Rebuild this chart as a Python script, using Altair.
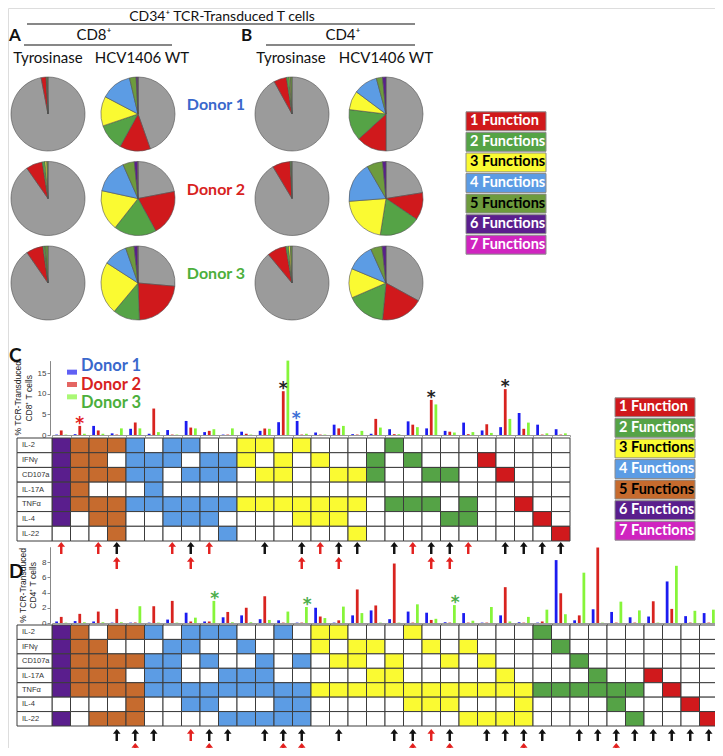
import math
import altair as alt
import pandas as pd

OFF = 8          # page margin
W, H = 707, 740  # whole drawing area


def px(v):
    """reference page pixel -> chart pixel"""
    return v - OFF


# ----------------------------------------------------------------- data
FUNC_CATS = ["1 Function", "2 Functions", "3 Functions", "4 Functions",
             "5 Functions", "6 Functions", "7 Functions"]
PIE_CATS = ["0 Functions"] + FUNC_CATS
DONORS = ["Donor 1", "Donor 2", "Donor 3"]
ANTIGENS = ["Tyrosinase", "HCV1406 WT"]
ROWS = ["IL-2", "IFNγ", "CD107a", "IL-17A", "TNFα", "IL-4", "IL-22"]

# pie slices, % of cells, in PIE_CATS order, one list per donor
cd8_tyrosinase = [[97.0, 2.2, 0.3, 0.2, 0.0, 0.3, 0.0, 0.0],
                  [90.3, 7.2, 1.2, 0.8, 0.0, 0.5, 0.0, 0.0],
                  [90.4, 7.4, 0.9, 0.3, 0.0, 1.0, 0.0, 0.0]]
cd8_hcv = [[44.6, 13.4, 11.8, 12.9, 13.6, 2.9, 0.7, 0.1],
           [22.0, 20.0, 18.6, 17.8, 15.0, 5.0, 1.4, 0.2],
           [26.4, 23.0, 11.7, 23.0, 10.5, 3.7, 1.5, 0.2]]
cd4_tyrosinase = [[92.0, 5.6, 1.2, 0.5, 0.0, 0.7, 0.0, 0.0],
                  [91.4, 7.8, 0.5, 0.0, 0.0, 0.3, 0.0, 0.0],
                  [89.0, 8.3, 1.2, 0.8, 0.0, 0.7, 0.0, 0.0]]
cd4_hcv = [[50.0, 13.2, 13.7, 8.3, 10.6, 2.7, 1.5, 0.0],
           [22.5, 12.0, 18.0, 21.3, 17.8, 6.9, 1.5, 0.0],
           [33.0, 18.5, 17.0, 12.8, 12.0, 5.0, 1.7, 0.0]]

# panel C: function patterns (rows in ROWS order) for each of 28 columns
c_patterns = ["1111110", "1111100", "1110110", "1010111", "1110100", "0111100",
              "1100110", "1010110", "0110110", "0110101", "1100100", "1010100",
              "0110100", "1000110", "0100110", "0010110", "0010101", "0110000",
              "1000100", "0100100", "0010100", "0010010", "0000110", "0100000",
              "0010000", "0000100", "0000010", "0000001"]
c_donor1 = [0.1, 0.2, 2.2, 0.4, 1.5, 0.3, 1.2, 3.4, 0.7, 0.1, 0.8, 1.0, 3.1, 3.4,
            0.6, 2.5, 0.2, 0.3, 1.4, 3.3, 1.6, 1.0, 3.0, 1.1, 1.9, 5.3, 2.5, 1.4]
c_donor2 = [1.1, 2.2, 1.1, 0.1, 3.0, 6.4, 0.1, 1.8, 1.0, 0.1, 0.3, 1.6, 10.6, 0.1,
            0.1, 1.6, 0.1, 3.9, 0.2, 2.5, 8.5, 0.8, 0.2, 2.6, 11.1, 1.5, 0.1, 0.1]
c_donor3 = [0.1, 0.3, 0.3, 1.6, 1.6, 0.7, 0.1, 1.6, 1.4, 1.6, 0.1, 1.5, 18.0, 0.3,
            0.1, 2.2, 1.0, 1.8, 0.2, 1.9, 7.4, 0.6, 0.7, 0.5, 3.9, 3.0, 0.4, 0.4]
c_arrow1_primary = [4, 8, 12, 14, 16, 17, 19, 21, 22, 25, 26, 27, 28]
c_arrow1_secondary = [1, 3, 7, 9, 15, 20, 23]
c_arrow2_secondary = [4, 8, 14, 16, 21, 22]
c_star_cols = [2, 13, 14, 21, 25]
c_star_donor = ["Donor 2", "Donor 2", "Donor 1", "Donor 2", "Donor 2"]
c_star_kind = ["Donor 2", "all", "Donor 1", "all", "all"]

# panel D: 36 columns
d_patterns = ["1111101", "1111100", "0111101", "1011101", "1010111", "1011100",
              "0111100", "1100110", "1010110", "1001101", "0101101", "0011101",
              "1000111", "0010111", "1100100", "1010100", "0110100", "0101100",
              "0011100", "1000110", "0100110", "0010110", "0100101", "0010101",
              "0001101", "0000111", "1000100", "0100100", "0010100", "0001100",
              "0000110", "0000101", "0001000", "0000100", "0000010", "0000001"]
d_donor1 = [0.2, 0.25, 0.2, 0.05, 0.05, 0.05, 0.45, 1.35, 0.2, 0.75, 1.0, 0.5,
            0.35, 0.05, 2.0, 0.05, 1.0, 1.65, 0.5, 1.5, 1.35, 0.1, 1.3, 0.05,
            1.0, 0.1, 0.05, 8.25, 0.35, 1.8, 1.45, 0.75, 0.85, 5.45, 0.9, 1.3]
d_donor2 = [0.8, 1.2, 1.5, 1.85, 0.05, 2.2, 2.9, 0.2, 0.2, 1.45, 2.0, 3.5,
            0.05, 0.05, 0.85, 0.35, 4.4, 2.3, 7.8, 0.05, 0.4, 0.05, 0.05, 0.05,
            4.7, 0.05, 0.2, 3.9, 1.0, 9.9, 0.05, 0.05, 2.85, 1.85, 0.05, 0.05]
d_donor3 = [0.05, 0.1, 0.1, 0.1, 2.2, 0.05, 0.05, 0.7, 2.9, 0.1, 0.1, 0.4,
            1.5, 2.1, 0.65, 2.15, 1.3, 0.05, 0.05, 2.45, 0.55, 2.35, 0.3, 2.1,
            0.2, 0.8, 1.75, 1.15, 6.6, 0.05, 2.8, 1.65, 0.05, 7.5, 1.6, 1.75]
d_arrow1_primary = [4, 5, 6, 9, 10, 12, 13, 14, 16, 19, 20, 22, 24, 25, 26, 27,
                    29, 30, 31, 32, 33, 34, 35, 36]
d_arrow1_secondary = [8, 21]
d_arrow2_secondary = [5, 9, 13, 14, 20, 22, 26, 31]
d_star_cols = [9, 14, 22]
d_star_donor = ["Donor 3", "Donor 3", "Donor 3"]
d_star_kind = ["Donor 3", "Donor 3", "Donor 3"]

# ----------------------------------------------------------------- styles
PIE_COLORS = ["#9b9b9b", "#d0191c", "#55a346", "#fafa32", "#5c9ce4",
              "#6d9b3d", "#5a1e8d", "#d024c0"]
GRID_COLORS = ["#d0191c", "#55a346", "#fafa32", "#5c9ce4", "#c66b2e",
               "#5a1e8d", "#d024c0"]
LEG_TEXT = ["white", "white", "black", "white", "black", "white", "white"]
BAR_COLORS = ["#1c1cf0", "#d8231f", "#86f53a"]
DONOR_TEXT = ["#3a68cc", "#d8231f", "#4caf3c"]
FONT = "Lato"
ARROW = "M0,-1L0.62,-0.22L0.2,-0.22L0.2,1L-0.2,1L-0.2,-0.22L-0.62,-0.22Z"


# ----------------------------------------------------------------- helpers
def text_layer(t, x, y, size, weight="normal", align="center", color="#111"):
    return alt.Chart(pd.DataFrame({"t": [t]})).mark_text(
        align=align, baseline="middle", fontSize=size, fontWeight=weight,
        color=color, font=FONT).encode(
        x=alt.value(px(x)), y=alt.value(px(y)), text="t:N")


def hline(x0, x1, y):
    return alt.Chart(pd.DataFrame({"a": [0]})).mark_rule(
        color="#111", strokeWidth=1.2).encode(
        x=alt.value(px(x0)), x2=alt.value(px(x1)), y=alt.value(px(y)))


def pie_frame(tyr, hcv):
    rows = []
    for antigen, block in zip(ANTIGENS, [tyr, hcv]):
        for donor, vals in zip(DONORS, block):
            for k, (cat, v) in enumerate(zip(PIE_CATS, vals)):
                rows.append(dict(antigen=antigen, donor=donor, cat=cat,
                                 order=k, value=v))
    return pd.DataFrame(rows)


PIE_Y = alt.Scale(domain=DONORS, range=[px(114), px(283)], padding=0)


def pie_layers(df, xr, label_x):
    xs = alt.Scale(domain=ANTIGENS, range=[px(xr[0]), px(xr[1])], padding=0)
    pies = alt.Chart(df).transform_filter("datum.value > 0").transform_joinaggregate(
        total="sum(value)", groupby=["antigen", "donor"]
    ).transform_window(
        cum="sum(value)", groupby=["antigen", "donor"],
        sort=[alt.SortField("order")], frame=[None, 0]
    ).transform_calculate(
        t0="(datum.cum - datum.value) / datum.total",
        t1="datum.cum / datum.total"
    ).mark_arc(outerRadius=37, stroke="#505050", strokeWidth=0.6).encode(
        x=alt.X("antigen:N", scale=xs, axis=None),
        y=alt.Y("donor:N", scale=PIE_Y, axis=None),
        theta=alt.Theta("t0:Q", scale=alt.Scale(domain=[0, 1], range=[0, 2 * math.pi]),
                        stack=False),
        theta2=alt.Theta2("t1:Q"),
        color=alt.Color("cat:N", scale=alt.Scale(domain=PIE_CATS, range=PIE_COLORS),
                        legend=None),
    )
    lab = alt.Chart(pd.DataFrame({"antigen": ANTIGENS})).mark_text(
        fontSize=15, font=FONT, color="#111", baseline="middle").encode(
        x=alt.X("antigen:N", scale=alt.Scale(domain=ANTIGENS,
                                              range=[px(label_x[0]), px(label_x[1])],
                                              padding=0), axis=None),
        y=alt.value(px(58)), text="antigen:N")
    return [pies, lab]


def legend_layers(y0, y1, x0, x1, colors):
    df = pd.DataFrame({"cat": FUNC_CATS})
    ys = alt.Scale(domain=FUNC_CATS, range=[px(y0), px(y1)],
                   paddingInner=0.08, paddingOuter=0.04)
    box = alt.Chart(df).mark_rect(stroke="#8c8c8c", strokeWidth=1).encode(
        x=alt.value(px(x0)), x2=alt.value(px(x1)),
        y=alt.Y("cat:N", scale=ys, axis=None),
        color=alt.Color("cat:N", scale=alt.Scale(domain=FUNC_CATS, range=colors),
                        legend=None))
    txt = alt.Chart(df).mark_text(align="left", baseline="middle", fontSize=14.5,
                                  fontWeight="bold", font=FONT).encode(
        x=alt.value(px(x0 + 4)),
        y=alt.Y("cat:N", scale=ys, axis=None),
        text="cat:N",
        color=alt.Color("cat:N", scale=alt.Scale(domain=FUNC_CATS, range=LEG_TEXT),
                        legend=None))
    return [box, txt]


def panel_layers(patterns, d1, d2, d3, a1p, a1s, a2s, star_cols, star_donor,
                 star_kind, xr, ymax, yr, yticks, ytitle, grid_y, arrow_y, axis_x):
    cols = list(range(1, len(patterns) + 1))
    xs = alt.Scale(domain=cols, range=[px(xr[0]), px(xr[1])],
                   paddingInner=0, paddingOuter=0)
    ys = alt.Scale(domain=[0, ymax], range=[px(yr[0]), px(yr[1])], nice=False, zero=True)
    offs = alt.Scale(domain=DONORS, paddingInner=0.4, paddingOuter=0.7)

    bars = pd.DataFrame([dict(col=c, donor=dn, value=v)
                         for dn, vals in zip(DONORS, [d1, d2, d3])
                         for c, v in zip(cols, vals)])
    layer_bars = alt.Chart(bars).mark_bar().encode(
        x=alt.X("col:O", scale=xs,
                axis=alt.Axis(orient="bottom", offset=px(yr[0]) - H, labels=False,
                              title=None, ticks=True, tickSize=2, tickBand="extent",
                              domainColor="#9a9a9a", tickColor="#9a9a9a")),
        xOffset=alt.XOffset("donor:N", scale=offs),
        y=alt.Y("value:Q", scale=ys,
                axis=alt.Axis(orient="left", offset=-px(axis_x), values=yticks,
                              labelFontSize=8, labelColor="#444", tickSize=3,
                              labelPadding=1, tickColor="#888", domainColor="#888",
                              grid=False, title=ytitle, titleFontSize=8.5,
                              titleFontWeight="normal", titleColor="#222",
                              titlePadding=4, titleFont="Liberation Sans",
                              labelFont="Liberation Sans")),
        color=alt.Color("donor:N", scale=alt.Scale(domain=DONORS, range=BAR_COLORS),
                        legend=None),
    )

    lookup = {dn: vals for dn, vals in zip(DONORS, [d1, d2, d3])}
    stars = pd.DataFrame(dict(col=star_cols, donor=star_donor, kind=star_kind,
                              value=[lookup[dn][c - 1] for c, dn in zip(star_cols, star_donor)]))
    layer_stars = alt.Chart(stars).mark_text(
        text="*", fontSize=17, fontWeight="bold", baseline="alphabetic",
        font="DejaVu Sans", dy=3).encode(
        x=alt.X("col:O", scale=xs, axis=None),
        xOffset=alt.XOffset("donor:N", scale=offs),
        y=alt.Y("value:Q", scale=ys, axis=None),
        color=alt.Color("kind:N", scale=alt.Scale(
            domain=["all", "Donor 1", "Donor 2", "Donor 3"],
            range=["#222222", "#3d6fd6", "#e3211f", "#4cae4c"]), legend=None),
    )

    grid = []
    for c, pat in zip(cols, patterns):
        n = pat.count("1")
        for r, flag in zip(ROWS, pat):
            grid.append(dict(col=c, row=r, cell=FUNC_CATS[n - 1] if flag == "1" else "off"))
    grid = pd.DataFrame(grid)
    gy = alt.Scale(domain=ROWS, range=[px(grid_y[0]), px(grid_y[1])],
                   paddingInner=0, paddingOuter=0)
    layer_grid = alt.Chart(grid).mark_rect(stroke="#3c3c3c", strokeWidth=1).encode(
        x=alt.X("col:O", scale=xs, axis=None),
        y=alt.Y("row:N", scale=gy, axis=None),
        color=alt.Color("cell:N", scale=alt.Scale(domain=["off"] + FUNC_CATS,
                                                   range=["#ffffff"] + GRID_COLORS),
                        legend=None),
    )
    rowdf = pd.DataFrame({"row": ROWS})
    layer_rowbox = alt.Chart(rowdf).mark_rect(fill="white", stroke="#3c3c3c",
                                              strokeWidth=1).encode(
        x=alt.value(px(17)), x2=alt.value(px(xr[0])),
        y=alt.Y("row:N", scale=gy, axis=None))
    layer_rowtxt = alt.Chart(rowdf).mark_text(
        align="left", baseline="middle", fontSize=7.5, color="#333",
        font="Liberation Sans").encode(
        x=alt.value(px(22)), y=alt.Y("row:N", scale=gy, axis=None), text="row:N")

    arrows = pd.DataFrame(
        [dict(col=c, level=1, kind="primary") for c in a1p]
        + [dict(col=c, level=1, kind="secondary") for c in a1s]
        + [dict(col=c, level=2, kind="secondary") for c in a2s])
    layer_arrows = alt.Chart(arrows).mark_point(
        shape=ARROW, filled=True, size=150, opacity=1, strokeWidth=0).encode(
        x=alt.X("col:O", scale=xs, axis=None),
        y=alt.Y("level:O", scale=alt.Scale(domain=[1, 2],
                                           range=[px(arrow_y[0]), px(arrow_y[1])],
                                           padding=0), axis=None),
        color=alt.Color("kind:N", scale=alt.Scale(domain=["primary", "secondary"],
                                                  range=["#111111", "#e3211f"]),
                        legend=None),
    )
    return [layer_bars, layer_stars, layer_grid, layer_rowbox, layer_rowtxt, layer_arrows]


# ----------------------------------------------------------------- layers
layers = []
# headers
layers += [
    text_layer("CD34⁺ TCR-Transduced T cells", 222, 17, 14),
    hline(27, 415, 24),
    text_layer("A", 9, 36, 17, "bold", "left"),
    text_layer("CD8⁺", 94, 35, 15),
    hline(24, 172, 45),
    text_layer("B", 241, 36, 17, "bold", "left"),
    text_layer("CD4⁺", 343, 35, 15),
    hline(266, 415, 45),
]
layers += pie_layers(pie_frame(cd8_tyrosinase, cd8_hcv), (48, 138), (48, 142))
layers += pie_layers(pie_frame(cd4_tyrosinase, cd4_hcv), (292, 386), (291, 386))

donor_lab = alt.Chart(pd.DataFrame({"donor": DONORS})).mark_text(
    fontSize=16, fontWeight="bold", font=FONT, baseline="middle", dy=-9).encode(
    x=alt.value(px(216)), y=alt.Y("donor:N", scale=PIE_Y, axis=None), text="donor:N",
    color=alt.Color("donor:N", scale=alt.Scale(domain=DONORS, range=DONOR_TEXT),
                    legend=None))
layers.append(donor_lab)
layers += legend_layers(111, 255, 466, 546, PIE_COLORS[1:])

# panel C
layers += [text_layer("C", 9, 356, 19, "bold", "left"),
           text_layer("D", 9, 572, 19, "bold", "left")]
layers += panel_layers(c_patterns, c_donor1, c_donor2, c_donor3,
                       c_arrow1_primary, c_arrow1_secondary, c_arrow2_secondary,
                       c_star_cols, c_star_donor, c_star_kind,
                       (52, 570), 18, (435, 360.6), [0, 5, 10, 15],
                       ["% TCR-Transduced", "CD8⁺ T cells"], (438, 541), (548, 563), 50)
don_df = pd.DataFrame({"donor": DONORS})
dy_scale = alt.Scale(domain=DONORS, range=[px(366), px(403)], padding=0)
layers.append(alt.Chart(don_df).mark_tick(thickness=5, size=10, orient="horizontal").encode(
    x=alt.value(px(72)), y=alt.Y("donor:N", scale=dy_scale, axis=None),
    color=alt.Color("donor:N", scale=alt.Scale(domain=DONORS, range=BAR_COLORS),
                    legend=None)))
layers.append(alt.Chart(don_df).mark_text(
    align="left", baseline="middle", fontSize=16.5, fontWeight="bold", font=FONT).encode(
    x=alt.value(px(81)), y=alt.Y("donor:N", scale=dy_scale, axis=None), text="donor:N",
    color=alt.Color("donor:N", scale=alt.Scale(domain=DONORS, range=DONOR_TEXT),
                    legend=None)))
layers += legend_layers(397, 541, 615, 695, GRID_COLORS)

# panel D
layers += panel_layers(d_patterns, d_donor1, d_donor2, d_donor3,
                       d_arrow1_primary, d_arrow1_secondary, d_arrow2_secondary,
                       d_star_cols, d_star_donor, d_star_kind,
                       (52, 718), 10, (623, 546.75), [0, 2, 4, 6, 8],
                       ["% TCR-Transduced", "CD4⁺ T cells"], (625, 726), (735, 749), 50)

chart = alt.layer(*layers).resolve_scale(
    x="independent", y="independent", color="independent",
    theta="independent", xOffset="independent"
).resolve_axis(x="independent", y="independent").properties(
    width=W, height=H, autosize=alt.AutoSizeParams(type="none"), padding=0
).configure_view(strokeWidth=0).configure(font=FONT)

chart.save("out.html", embed_options={"renderer": "svg", "actions": False})
